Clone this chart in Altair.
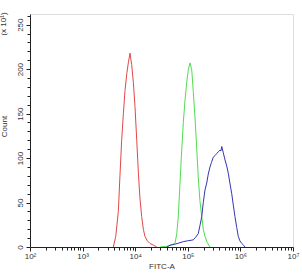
import altair as alt
import pandas as pd

# Red histogram
red_x = [3840, 4270, 4780, 5130, 5530, 5960, 6400, 6920, 7400, 7960, 8570, 9230,
         9910, 10700, 11500, 12300, 13300, 14300, 15300, 17000, 19100, 22400, 25600]
red_y = [0, 12, 40, 80, 120, 150, 176, 195, 207, 218, 205, 185,
         158, 120, 83, 55, 34, 20, 12, 7, 4, 2, 0]

# Green histogram
green_x = [29600, 41700, 57100, 61700, 65900, 70800, 76600, 82200, 88500, 95500,
           102000, 110000, 119000, 127000, 137000, 148000, 158000, 170000, 184000,
           197000, 212000, 234000, 264000]
green_y = [0, 1, 4, 15, 34, 70, 109, 140, 165, 185,
           199, 207, 199, 175, 146, 110, 79, 52, 34,
           20, 12, 5, 0]

# Blue histogram
blue_x = [39800, 45900, 56200, 82000, 100000, 127000, 141000, 158000, 170000, 184000,
          197000, 212000, 229000, 245000, 264000, 282000, 305000, 331000, 354000, 380000,
          409000, 427000, 442000, 473000, 509000, 550000, 589000, 631000, 684000, 733000,
          789000, 851000, 912000, 977000, 1060000, 1150000, 1220000]
blue_y = [0, 2, 3, 6, 7, 8, 11, 15, 24, 34,
          50, 64, 72, 82, 90, 95, 101, 103, 105, 107,
          109, 108, 113, 106, 98, 91, 83, 72, 60, 47,
          34, 22, 12, 7, 4, 2, 0]

series_names = ["red", "green", "blue"]
series_colors = ["#e04848", "#4fdc4f", "#3535b0"]

x_major = [100, 1000, 10000, 100000, 1000000, 10000000]
x_major_labels = ["10²", "10³", "10⁴", "10⁵", "10⁶", "10⁷"]
x_ticks = [k * 10 ** e for e in range(2, 7) for k in range(1, 10)] + [10000000]
y_ticks = list(range(0, 261, 10))

rows = []
for name, xs, ys in [("red", red_x, red_y), ("green", green_x, green_y), ("blue", blue_x, blue_y)]:
    for i, (a, b) in enumerate(zip(xs, ys)):
        rows.append({"series": name, "fitc": a, "count": b, "order": i})
df = pd.DataFrame(rows)

label_expr = " : ".join(
    f"datum.value == {v} ? '{l}'" for v, l in zip(x_major, x_major_labels)
) + " : ''"
major_test = "indexof([" + ",".join(str(v) for v in x_major) + "], datum.value) >= 0"

FONT = "Liberation Sans"

lines = alt.Chart(df).mark_line(strokeWidth=1, clip=True).encode(
    x=alt.X("fitc:Q",
            scale=alt.Scale(type="log", domain=[100, 10000000], nice=False),
            axis=alt.Axis(values=x_ticks, labelExpr=label_expr, labelOverlap=False,
                          tickSize={"condition": {"test": major_test, "value": 4}, "value": 3},
                          title="FITC-A", titleFont=FONT, titleFontSize=8,
                          titleFontWeight="normal", titleColor="#333", titlePadding=2,
                          labelFont=FONT, labelFontSize=8, labelColor="#333",
                          labelPadding=1, domainColor="#222", tickColor="#222",
                          grid=False, labelFlush=False)),
    y=alt.Y("count:Q",
            scale=alt.Scale(domain=[0, 262], nice=False),
            axis=alt.Axis(values=y_ticks,
                          labelExpr="datum.value % 50 == 0 ? datum.label : ''",
                          labelOverlap=False,
                          tickSize={"condition": {"test": "datum.value % 50 == 0", "value": 4}, "value": 3},
                          labelAngle=270, labelAlign="center", labelBaseline="bottom",
                          labelFont=FONT, labelFontSize=8, labelColor="#333", labelPadding=2,
                          title="Count", titleFont=FONT, titleFontSize=8,
                          titleFontWeight="normal", titleColor="#333",
                          titleX=-22, titleY=112, titleAngle=270, titleAlign="center",
                          titleBaseline="bottom",
                          domainColor="#222", tickColor="#222", grid=False)),
    color=alt.Color("series:N", scale=alt.Scale(domain=series_names, range=series_colors),
                    legend=None),
    order="order:Q",
)

mult = alt.Chart(pd.DataFrame({"t": ["(x 10¹)"]})).mark_text(
    angle=270, font=FONT, fontSize=8, color="#333", baseline="bottom", align="center"
).encode(x=alt.value(-22), y=alt.value(10), text="t:N")

chart = alt.layer(lines, mult).properties(
    width=263, height=233,
    padding={"left": 30, "top": 14, "right": 9, "bottom": 28},
    autosize=alt.AutoSizeParams(type="none"),
).configure_view(stroke="#888", strokeWidth=1).configure(background="white")

chart.save("out.html", embed_options={"renderer": "svg", "actions": False})
